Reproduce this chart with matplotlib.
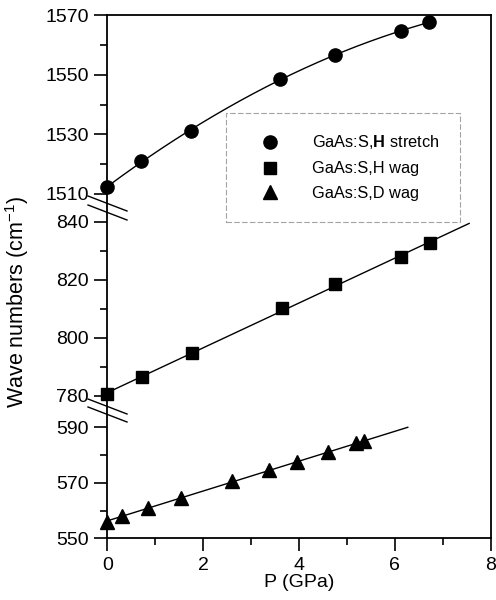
import numpy as np
import matplotlib.pyplot as plt
from matplotlib.lines import Line2D

plt.rcParams['font.family'] = ['Liberation Sans', 'DejaVu Sans']
plt.rcParams['mathtext.fontset'] = 'custom'
plt.rcParams['mathtext.rm'] = 'Liberation Sans'
plt.rcParams['mathtext.bf'] = 'Liberation Sans:bold'

# Данные
p_stretch = [0.0, 0.71, 1.74, 3.61, 4.75, 6.12, 6.72]
w_stretch = [1512.4, 1521.0, 1531.1, 1548.6, 1556.5, 1564.6, 1567.6]

p_hwag = [0.0, 0.73, 1.76, 3.64, 4.76, 6.13, 6.74]
w_hwag = [780.6, 786.7, 794.9, 810.2, 818.5, 827.9, 832.9]

p_dwag = [0.0, 0.31, 0.85, 1.53, 2.61, 3.37, 3.95, 4.61, 5.18, 5.36]
w_dwag = [556.0, 558.0, 560.8, 564.7, 570.7, 574.6, 577.4, 581.1, 584.4, 584.9]

labels = [r'GaAs:S,$\mathbf{H}$ stretch', 'GaAs:S,H wag', 'GaAs:S,D wag']

# конец линий аппроксимации по P
end_hwag = 7.55
end_dwag = 6.27

yticks_major = [550, 570, 590, 780, 800, 820, 840, 1510, 1530, 1550, 1570]
yticks_minor = [560, 580, 790, 810, 830, 1520, 1540, 1560]

# разрывная ось: значения -> пиксели от низа осей
seg_val = np.array([550, 590, 780, 840, 1510, 1570], float)
seg_pos = np.array([0, 111, 142.3, 316.3, 344.3, 523.3])


def forward(v):
    v = np.asarray(v, float)
    out = np.interp(v, seg_val, seg_pos)
    s0 = (seg_pos[1] - seg_pos[0]) / (seg_val[1] - seg_val[0])
    s1 = (seg_pos[-1] - seg_pos[-2]) / (seg_val[-1] - seg_val[-2])
    out = np.where(v < seg_val[0], seg_pos[0] + (v - seg_val[0]) * s0, out)
    out = np.where(v > seg_val[-1], seg_pos[-1] + (v - seg_val[-1]) * s1, out)
    return out


def inverse(u):
    u = np.asarray(u, float)
    out = np.interp(u, seg_pos, seg_val)
    s0 = (seg_val[1] - seg_val[0]) / (seg_pos[1] - seg_pos[0])
    s1 = (seg_val[-1] - seg_val[-2]) / (seg_pos[-1] - seg_pos[-2])
    out = np.where(u < seg_pos[0], seg_val[0] + (u - seg_pos[0]) * s0, out)
    out = np.where(u > seg_pos[-1], seg_val[-1] + (u - seg_pos[-1]) * s1, out)
    return out


fig = plt.figure(figsize=(4.96, 6.0), dpi=100)
ax = fig.add_axes([107.3 / 496, 1 - 538.3 / 600, 383.4 / 496, 523.3 / 600])
ax.set_yscale('function', functions=(forward, inverse))

# линии аппроксимации
c2 = np.polyfit(p_stretch, w_stretch, 2)
xs = np.linspace(0, max(p_stretch), 200)
ax.plot(xs, np.polyval(c2, xs), color='black', lw=1.0)

c1 = np.polyfit(p_hwag, w_hwag, 1)
xs = np.linspace(0, end_hwag, 2)
ax.plot(xs, np.polyval(c1, xs), color='black', lw=1.0)

c1 = np.polyfit(p_dwag, w_dwag, 1)
xs = np.linspace(0, end_dwag, 2)
ax.plot(xs, np.polyval(c1, xs), color='black', lw=1.0)

ax.plot(p_stretch, w_stretch, 'o', color='black', ms=9.5, label=labels[0], clip_on=False, zorder=5)
ax.plot(p_hwag, w_hwag, 's', color='black', ms=9, label=labels[1], clip_on=False, zorder=5)
ax.plot(p_dwag, w_dwag, '^', color='black', ms=10, label=labels[2], clip_on=False, zorder=5)

ax.set_xlim(0, 8)
ax.set_ylim(550, 1570)
ax.set_xticks([0, 2, 4, 6, 8])
ax.set_xticks([1, 3, 5, 7], minor=True)
ax.set_yticks(yticks_major)
ax.set_yticklabels([str(t) for t in yticks_major])
ax.set_yticks(yticks_minor, minor=True)
ax.tick_params(which='major', direction='out', length=9.5, width=1.2, labelsize=14, pad=4)
ax.tick_params(which='minor', direction='out', length=5, width=1.2)
for s in ax.spines.values():
    s.set_linewidth(1.3)

ax.set_xlabel('P (GPa)', fontsize=14)
ax.xaxis.set_label_coords(0.5, -0.069)
ax.set_ylabel('Wave numbers (cm$^{-1}$)', fontsize=15.5)
ax.yaxis.set_label_coords(-0.2, 0.4515)

# знаки разрыва оси
def px(x, y):
    return (x - 107.3) / 383.4, (538.3 - y) / 523.3

for (x0, y0, x1, y1) in [(88, 196, 127, 211), (88, 205, 127, 220),
                         (88, 399, 127, 414), (88, 407, 127, 422)]:
    a, b = px(x0, y0)
    c, d = px(x1, y1)
    ax.add_line(Line2D([a, c], [b, d], transform=ax.transAxes, color='black',
                       lw=1.0, clip_on=False))

lx, ly = px(226, 113)
leg = ax.legend(loc='upper left', bbox_to_anchor=(lx, ly), fontsize=11.8,
                frameon=True, fancybox=False, borderpad=1.25, labelspacing=0.6,
                handlelength=2.9, handletextpad=1.1, borderaxespad=0)
leg.get_frame().set_edgecolor('0.55')
leg.get_frame().set_linewidth(0.8)
leg.get_frame().set_linestyle((0, (5, 2)))

fig.savefig('out.png', dpi=100)
